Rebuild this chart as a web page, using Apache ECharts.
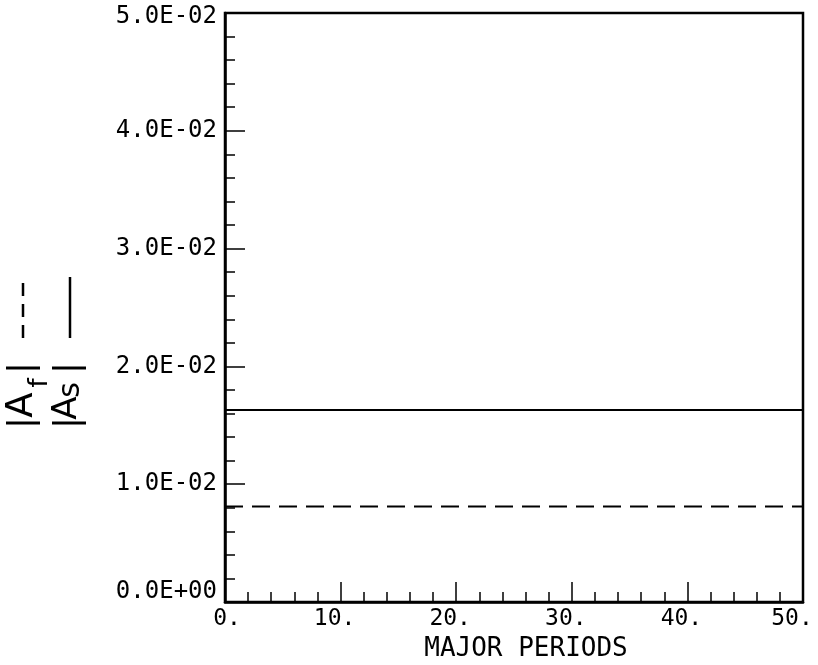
<!DOCTYPE html>
<html>
<head>
<meta charset="utf-8">
<script src="https://cdn.jsdelivr.net/npm/echarts@6/dist/echarts.min.js"></script>
<style>
  html, body { margin: 0; padding: 0; background: #fff; }
  #chart { width: 818px; height: 665px; }
</style>
</head>
<body>
<div id="chart"></div>
<script>
// values
var periods = [0, 10, 20, 30, 40, 50];
var As = [0.0163, 0.0163, 0.0163, 0.0163, 0.0163, 0.0163];   // solid
var Af = [0.0081, 0.0081, 0.0081, 0.0081, 0.0081, 0.0081];   // dashed

var font = 'DejaVu Sans Mono';
var sym = 'DejaVu Sans';

function pairs(xs, ys) {
    return xs.map(function (x, i) { return [x, ys[i]] });
}

// plotter style labels, first and last nudged inside like the original
function ylab(v) {
    if (Math.abs(v) < 1e-12) return '{lo|0.0E+00}';
    var s = (v * 100).toFixed(1) + 'E-02';
    if (Math.abs(v - 0.05) < 1e-12) return '{hi|' + s + '}';
    return s;
}
function xlab(v) {
    if (v === 0) return '{z|0.}';
    if (v === 50) return '{e|50.}';
    return '{n|' + v + '.}';
}

// rotated piece of the y axis title
function vtext(t, x, y, size) {
    return {
        type: 'text', x: x, y: y, rotation: Math.PI / 2,
        style: {
            text: t, fontFamily: sym, fontSize: size, fill: '#000',
            align: 'center', verticalAlign: 'middle'
        }
    };
}

chart = echarts.init(document.getElementById('chart'));

chart.setOption({
    animation: false,
    backgroundColor: '#fff',
    grid: {
        left: 225, right: 15, top: 13, bottom: 63,
        outerBoundsMode: 'none',
        containLabel: false,
        show: true, borderColor: '#000', borderWidth: 2.5
    },
    xAxis: {
        type: 'value',
        min: 0, max: 50, interval: 10,
        name: 'MAJOR PERIODS',
        nameLocation: 'middle',
        nameGap: 31,
        nameTextStyle: { fontFamily: font, fontSize: 26, color: '#000', padding: [0, 0, 0, 24] },
        axisLine: { show: true, lineStyle: { color: '#000', width: 2.5 } },
        axisTick: { inside: true, length: 20, lineStyle: { color: '#000', width: 1.5 } },
        minorTick: { show: true, splitNumber: 5, length: 10, lineStyle: { color: '#000', width: 1.5 } },
        splitLine: { show: false },
        axisLabel: {
            fontFamily: font, fontSize: 23, color: '#000', margin: 6,
            formatter: xlab,
            rich: {
                z: { fontFamily: font, fontSize: 23, padding: [0, 0, 0, 4] },
                n: { fontFamily: font, fontSize: 23, padding: [0, 12, 0, 0] },
                e: { fontFamily: font, fontSize: 23, padding: [0, 22, 0, 0] }
            }
        }
    },
    yAxis: {
        type: 'value',
        min: 0, max: 0.05, interval: 0.01,
        axisLine: { show: true, lineStyle: { color: '#000', width: 2.5 } },
        axisTick: { inside: true, length: 20, lineStyle: { color: '#000', width: 1.5 } },
        minorTick: { show: true, splitNumber: 5, length: 10, lineStyle: { color: '#000', width: 1.5 } },
        splitLine: { show: false },
        axisLabel: {
            fontFamily: font, fontSize: 24, color: '#000', margin: 8,
            formatter: ylab,
            rich: {
                lo: { fontFamily: font, fontSize: 24, padding: [0, 0, 20, 0] },
                hi: { fontFamily: font, fontSize: 24, padding: [8, 0, 0, 0] }
            }
        }
    },
    series: [
        {
            type: 'line',
            data: pairs(periods, As),
            symbol: 'none',
            lineStyle: { color: '#000', width: 2 }
        },
        {
            type: 'line',
            data: pairs(periods, Af),
            symbol: 'none',
            lineStyle: { color: '#000', width: 2, type: [18, 9] }
        }
    ],
    graphic: [
        // |A_f|  - - -
        vtext('|', 23, 423, 34),
        vtext('A', 22, 405, 37),
        vtext('f', 40, 383, 26),
        vtext('|', 23, 368, 34),
        {
            type: 'line',
            shape: { x1: 23, y1: 338, x2: 23, y2: 278 },
            style: { stroke: '#000', lineWidth: 2.5, lineDash: [13, 8] }
        },
        // |A_s|  ----
        vtext('|', 69, 423, 34),
        vtext('A', 67, 408, 34),
        vtext('s', 71, 390, 30),
        vtext('|', 69, 368, 34),
        {
            type: 'line',
            shape: { x1: 70, y1: 338, x2: 70, y2: 277 },
            style: { stroke: '#000', lineWidth: 2.5 }
        }
    ]
});
</script>
</body>
</html>
